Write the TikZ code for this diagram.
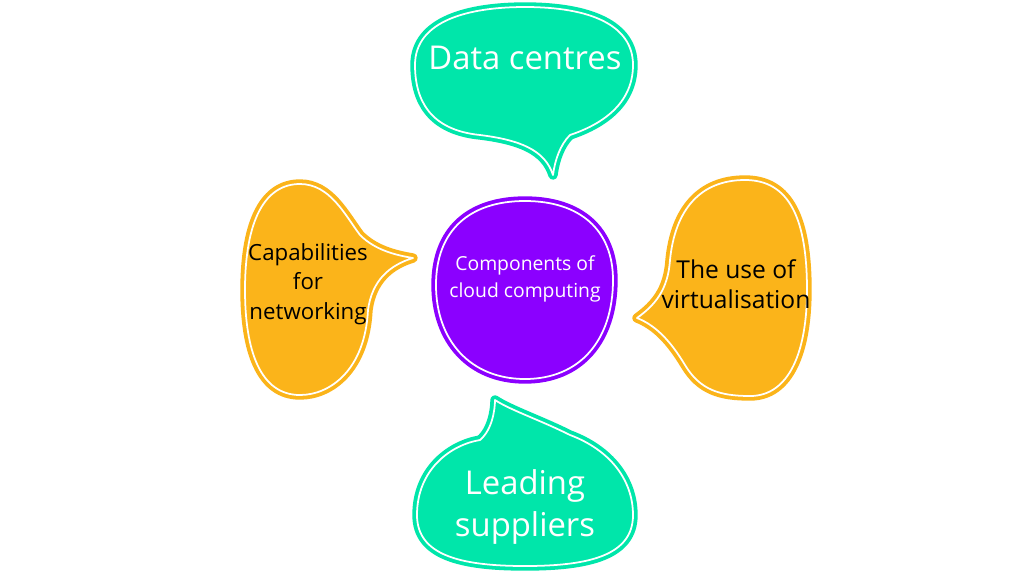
\documentclass[tikz,border=0pt]{standalone}
\usepackage{fontspec}
\setmainfont{Open Sans}
\definecolor{grn}{HTML}{00E6AA}
\definecolor{org}{HTML}{FBB41A}
\definecolor{pur}{HTML}{8B00FF}
\begin{document}
\begin{tikzpicture}[x=0.03cm,y=-0.03cm,
  blob/.style={fill=#1,draw=#1,line width=8pt,line join=round},
  rim/.style={draw=white,line width=1.5pt,line join=round},
  lbl/.style={align=center,inner sep=0pt}]
\useasboundingbox[fill=white] (0,0) rectangle (1024,575);
\def\top{(553,175) .. controls (545,150) and (520,140) .. (480,135) .. controls (430,130) and (415,100) .. (415,65) .. controls (415,20) and (470,7) .. (525,7) .. controls (590,7) and (633,25) .. (633,65) .. controls (633,105) and (600,125) .. (570,135) .. controls (560,145) and (555,160) .. (553,175) -- cycle}
\def\bot{(495,400) .. controls (510,410) and (540,420) .. (570,435) .. controls (610,450) and (633,480) .. (633,515) .. controls (633,555) and (590,566) .. (525,566) .. controls (460,566) and (417,555) .. (417,515) .. controls (417,470) and (450,445) .. (480,440) .. controls (492,430) and (495,410) .. (495,400) -- cycle}
\def\lft{(413,258) .. controls (390,265) and (372,280) .. (368,310) .. controls (365,370) and (330,395) .. (300,395) .. controls (260,395) and (245,350) .. (245,290) .. controls (245,220) and (265,184) .. (300,184) .. controls (330,184) and (345,215) .. (360,235) .. controls (375,250) and (395,255) .. (413,258) -- cycle}
\def\rgt{(637,318) .. controls (655,325) and (670,340) .. (685,365) .. controls (700,390) and (720,396) .. (750,396) .. controls (790,396) and (807,350) .. (807,290) .. controls (807,220) and (790,180) .. (745,180) .. controls (700,180) and (675,210) .. (670,260) .. controls (668,290) and (655,305) .. (637,318) -- cycle}
\def\mid{(525,201) .. controls (580,201) and (613,230) .. (613,280) .. controls (613,340) and (580,379) .. (525,379) .. controls (470,379) and (436,340) .. (436,285) .. controls (436,230) and (470,201) .. (525,201) -- cycle}
\path[blob=grn] \top; \path[rim] \top;
\path[blob=grn] \bot; \path[rim] \bot;
\path[blob=org] \lft; \path[rim] \lft;
\path[blob=org] \rgt; \path[rim] \rgt;
\path[blob=pur] \mid; \path[rim] \mid;
\node[lbl,text=white,font=\fontsize{28}{32}\selectfont] (dc) at (525,58) {Data centres};
\node[lbl,text=white,font=\fontsize{28}{36}\selectfont] (ls) at (525,507) {Leading\\suppliers};
\node[lbl,font=\fontsize{19}{25}\selectfont] (cn) at (308,284) {Capabilities\\for\\networking};
\node[lbl,font=\fontsize{21}{26}\selectfont] (vu) at (736,284) {The use of\\virtualisation};
\node[lbl,text=white,font=\fontsize{16.5}{23}\selectfont] (cc) at (525,279) {Components of\\cloud computing};
\end{tikzpicture}
\end{document}
